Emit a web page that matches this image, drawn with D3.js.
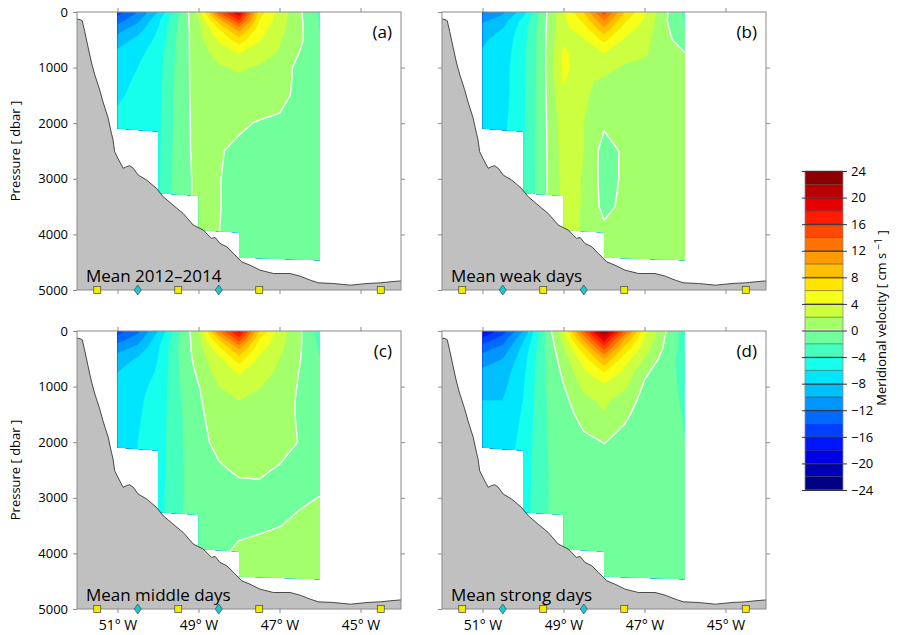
<!DOCTYPE html>
<html>
<head>
<meta charset="utf-8">
<script src="https://cdn.jsdelivr.net/npm/d3@7"></script>
<style>
  body { margin: 0; background: #fff; }
  text { font-family: "Open Sans", "Noto Sans", sans-serif; fill: #000; }
</style>
</head>
<body>
<div id="chart"></div>
<script>
// grid of the section: station longitudes and pressure levels
const lons = [-51, -50.5, -50, -49.5, -49, -48.5, -48, -47.5, -47, -46.5, -46];
const pressures = [0, 150, 300, 500, 750, 1000, 1250, 1500, 2000, 2500, 3000, 3500, 4000, 4500];

// meridional velocity [cm/s], one row per pressure level
const velMean = [
  [-15, -12, -8, -2.5, 2.5, 14, 20, 7, 3.2, 0.3, -2.5],
  [-13, -10.5, -6.5, -2, 1.8, 9, 16, 6, 3, 0.4, -2.3],
  [-11, -9, -6, -1.8, 1.5, 6, 11, 5, 2.6, 0.4, -2.1],
  [-9, -7.5, -5.5, -1.6, 1.3, 4.3, 7, 4.2, 2.2, 0.4, -1.9],
  [-7.5, -6.5, -5, -1.5, 1.2, 2.6, 4.05, 2.8, 1.8, -0.1, -1.8],
  [-7, -6, -4.8, -1.4, 1.1, 1.8, 2.2, 1.8, 1.4, -0.8, -1.7],
  [-7, -5.5, -4.7, -1.3, 1.0, 1.5, 1.7, 1.5, 1.2, -0.8, -1.6],
  [-6.3, -5.5, -4.6, -1.2, 0.9, 1.3, 1.4, 1.2, 0.9, -0.8, -1.5],
  [-5.5, -5.3, -4.5, -1.2, 0.8, 0.9, 0.3, -0.15, -0.5, -1.0, -1.4],
  [-5, -5, -4.4, -1.1, 0.7, 0.15, -0.4, -0.6, -0.8, -1.0, -1.3],
  [-5, -4.8, -4.3, -1.0, 0.5, 0.05, -0.4, -0.6, -0.8, -1.0, -1.2],
  [-5, -4.8, -4.2, -1.0, 0.5, 0.05, -0.4, -0.6, -0.8, -0.9, -1.1],
  [-5, -4.8, -4.2, -1.0, 0.4, 0.02, -0.4, -0.6, -0.7, -0.9, -1.0],
  [-5, -4.8, -4.2, -1.0, 0.4, -0.1, -0.4, -0.5, -0.7, -0.9, -1.0]
];
const velWeak = [
  [-12.5, -10.5, -7, -0.8, 3.8, 8, 15, 8, 4.2, 0.5, -2.5],
  [-10.5, -9, -5.5, -0.7, 3.5, 6.5, 12, 6.5, 3.8, 0.3, -2.2],
  [-9, -8, -5, -0.6, 3.5, 5, 9.5, 5, 3.2, 0.5, -1.8],
  [-8.3, -7.3, -4.8, -0.6, 3.8, 3.8, 6.5, 3.8, 2.6, 0.7, -1.2],
  [-7.8, -7, -4.6, -0.6, 4.3, 3.2, 3.9, 3.0, 2.2, 1.0, 0.1],
  [-7.5, -6.8, -4.5, -0.6, 4.5, 2.8, 2.8, 1.7, 1.5, 1.0, 0.3],
  [-7.3, -6.8, -4.5, -0.6, 4.2, 2.4, 1.6, 1.4, 1.3, 1.1, 0.5],
  [-7.2, -6.8, -4.4, -0.6, 3.6, 2.2, 1.5, 1.3, 1.2, 1.1, 0.6],
  [-7, -6.5, -4.4, -0.6, 3.0, 2.0, 0.3, 1.0, 1.1, 1.1, 0.8],
  [-7, -6.3, -4.3, -0.6, 2.8, 2.0, -0.8, 0.3, 1.0, 1.1, 0.9],
  [-7, -6, -4.2, -0.6, 2.6, 1.9, -0.8, 0.3, 1.0, 1.1, 1.0],
  [-7, -6, -4.2, -0.6, 2.5, 1.9, -0.6, 0.5, 1.0, 1.1, 1.0],
  [-7, -6, -4.2, -0.6, 2.3, 1.9, 0.6, 0.8, 1.0, 1.1, 1.0],
  [-7, -6, -4.2, -0.6, 2.3, 1.9, 0.8, 0.9, 1.0, 1.1, 1.0]
];
const velMiddle = [
  [-15, -12.5, -8, -2.5, 1.8, 12, 19, 8, 3, 0.3, -3],
  [-13, -11, -7, -2.2, 1.4, 8, 15, 6, 2.8, 0.3, -2.6],
  [-11, -9.5, -6.3, -2.0, 1.2, 5.5, 10.5, 4.8, 2.5, 0.2, -2.3],
  [-9, -7.8, -6, -2.1, 1.0, 3.5, 7, 3.7, 2.0, 0.1, -2.0],
  [-8, -7, -5.8, -2.1, 0.4, 2.7, 4.2, 2.8, 1.6, -0.1, -1.8],
  [-7.5, -6.5, -5.5, -2.2, -0.1, 2.0, 2.8, 2.1, 1.2, -0.2, -1.7],
  [-7.2, -6.3, -5.3, -2.3, -0.3, 1.5, 2.0, 1.6, 1.0, -0.3, -1.6],
  [-7, -6.2, -5.2, -2.4, -0.5, 1.2, 1.5, 1.3, 1.0, -0.3, -1.5],
  [-6.8, -6.0, -5.0, -2.4, -0.7, 0.6, 1.0, 0.9, 0.8, -0.1, -1.3],
  [-6.8, -6.0, -5.0, -2.4, -1.0, -0.3, 0.3, 0.3, -0.2, -0.4, -1.0],
  [-6.8, -5.8, -4.8, -2.4, -1.0, -0.8, -0.8, -0.6, -0.5, -0.3, 0.05],
  [-6.8, -5.8, -4.8, -2.2, -1.0, -0.8, -0.7, -0.4, -0.05, 0.4, 0.8],
  [-6.8, -5.8, -4.8, -2.2, -0.9, -0.5, 0.6, 0.9, 1.0, 1.0, 1.0],
  [-6.8, -5.8, -4.8, -2.2, -0.9, -0.3, 0.8, 1.0, 1.0, 1.0, 1.0]
];
const velStrong = [
  [-18, -15, -10, -2.5, 3.6, 14, 23, 14, 4.5, 0.2, -3],
  [-15.5, -13, -8.5, -2.5, 2.6, 10.5, 19, 10, 3.8, -0.05, -3],
  [-13, -11.5, -7.5, -2.4, 1.8, 7.5, 15, 7.5, 3.0, -0.3, -3],
  [-11, -10, -7, -2.3, 1.0, 5, 10, 5, 2.0, -0.9, -3],
  [-9.5, -9, -6.5, -2.3, 0.4, 3.5, 6, 3.5, 0.3, -1.0, -2.8],
  [-8.5, -8.5, -6.2, -2.3, -0.1, 2.4, 3.5, 2.4, -0.3, -1.0, -2.6],
  [-8, -8, -6, -2.3, -0.6, 1.5, 2.4, 1.0, -0.6, -1.0, -2.4],
  [-7.6, -7.5, -5.8, -2.3, -0.9, 0.8, 1.9, 0.3, -0.7, -1.0, -2.2],
  [-7.2, -7, -5.5, -2.3, -1.0, -0.5, 0.05, -0.5, -0.8, -1.0, -2.0],
  [-7, -6.5, -5.3, -2.3, -1.2, -1.0, -0.9, -0.9, -0.9, -1.0, -1.8],
  [-7, -6.5, -5.0, -2.3, -1.2, -1.0, -1.0, -1.0, -1.0, -1.0, -1.5],
  [-7, -6.5, -5.0, -2.3, -1.2, -1.0, -1.0, -1.0, -1.0, -1.0, -1.3],
  [-7, -6.5, -5.0, -2.3, -1.2, -1.0, -1.0, -1.0, -1.0, -1.0, -1.2],
  [-7, -6.5, -5.0, -2.3, -1.2, -1.0, -1.0, -1.0, -1.0, -1.0, -1.2]
];

// lower edge of the measured section
const maskLon = [-51, -46, -46, -48, -48, -49, -49, -50, -50, -51];
const maskP = [0, 0, 4463, 4415, 3964, 3923, 3304, 3262, 2151, 2097];

// bottom topography
const bathyLon = [-52, -51.92, -51.87, -51.81, -51.73, -51.64, -51.56, -51.44, -51.36, -51.23, -51.15, -51.11,
  -51.07, -50.99, -50.86, -50.78, -50.7, -50.61, -50.49, -50.28, -50.04, -49.87, -49.63, -49.38, -49.13,
  -48.88, -48.68, -48.59, -48.47, -48.3, -48.14, -47.93, -47.73, -47.48, -47.15, -46.74, -46.49, -46.24,
  -46.04, -45.67, -45.25, -44.84, -44.51, -44.27, -44];
const bathyP = [126, 139, 157, 349, 620, 919, 1130, 1400, 1611, 1910, 2180, 2300,
  2512, 2631, 2811, 2782, 2764, 2811, 2932, 3022, 3171, 3323, 3472, 3622, 3832,
  3923, 4072, 4054, 4162, 4223, 4342, 4494, 4553, 4643, 4703, 4703, 4751, 4823,
  4871, 4883, 4913, 4883, 4871, 4853, 4836];

// mooring positions along the bottom
const squareLon = [-51.5, -49.5, -47.5, -44.5];
const diamondLon = [-50.5, -48.5];

const xTicks = [-51, -49, -47, -45];
const yTicks = [0, 1000, 2000, 3000, 4000, 5000];
const levels = d3.range(-24, 24, 2);
const cbTicks = d3.range(-24, 25, 4);
const bandColors = ['#000082', '#0000b4', '#0000e6', '#0015ff', '#0040ff', '#006aff', '#0095ff', '#00bfff',
  '#00e6ff', '#16ffec', '#45ffbf', '#71ff9b', '#a3ff6a', '#ccff40', '#f6ff18', '#ffe400', '#ffbf00',
  '#ff9a00', '#ff7200', '#ff4800', '#ff1c00', '#e60000', '#b80000', '#8a0000'];

const panelW = 324, panelH = 278;
const panels = [
  {letter: '(a)', label: 'Mean 2012\u20132014', values: velMean, left: 77, top: 12, yLab: true, xLab: false},
  {letter: '(b)', label: 'Mean weak days', values: velWeak, left: 442, top: 12, yLab: false, xLab: false},
  {letter: '(c)', label: 'Mean middle days', values: velMiddle, left: 77, top: 331, yLab: true, xLab: true},
  {letter: '(d)', label: 'Mean strong days', values: velStrong, left: 442, top: 331, yLab: false, xLab: true}
];

const svg = d3.select('#chart').append('svg')
  .attr('width', 905).attr('height', 635);

const x = d3.scaleLinear().domain([-52, -44]).range([0, panelW]);
const y = d3.scaleLinear().domain([0, 5000]).range([0, panelH]);
const color = d3.scaleThreshold().domain(levels.slice(1)).range(bandColors);

const nx = lons.length, ny = pressures.length;
const lonMin = lons[0], lonMax = lons[nx - 1], pMax = pressures[ny - 1];

// contour grid coordinate -> real coordinate (value i sits at i + 0.5)
function gridTo(arr, g) {
  const i = Math.max(0, Math.min(arr.length - 1, g - 0.5));
  const k = Math.min(Math.floor(i), arr.length - 2);
  return arr[k] + (i - k) * (arr[k + 1] - arr[k]);
}
const proj = d3.geoTransform({
  point: function (gx, gy) { this.stream.point(x(gridTo(lons, gx)), y(gridTo(pressures, gy))); }
});
const gridPath = d3.geoPath(proj);
const contours = d3.contours().size([nx, ny]);

panels.forEach((p, idx) => {
  const g = svg.append('g').attr('transform', `translate(${p.left},${p.top})`);
  const flat = p.values.flat();

  svg.append('clipPath').attr('id', 'mask' + idx)
    .append('path')
    .attr('d', d3.line()(maskLon.map((d, i) => [x(d), y(maskP[i])])) + 'Z');

  const field = g.append('g').attr('clip-path', `url(#mask${idx})`);
  field.selectAll('path.band')
    .data(levels.map(t => contours.contour(flat, t)))
    .join('path')
    .attr('class', 'band')
    .attr('d', gridPath)
    .attr('fill', d => color(d.value))
    .attr('stroke', d => color(d.value))
    .attr('stroke-width', 0.3);

  // zero contour, without the pieces running along the grid edge
  const zero = contours.contour(flat, 0);
  let zd = '';
  zero.coordinates.forEach(poly => poly.forEach(ring => {
    const pts = ring.map(([gx, gy]) => [gridTo(lons, gx), gridTo(pressures, gy)]);
    if (pts.length && (pts[0][0] !== pts[pts.length - 1][0] || pts[0][1] !== pts[pts.length - 1][1])) pts.push(pts[0]);
    let open = false;
    for (let i = 1; i < pts.length; i++) {
      const a = pts[i - 1], b = pts[i];
      const edge = (a[0] === lonMin && b[0] === lonMin) || (a[0] === lonMax && b[0] === lonMax) ||
        (a[1] === 0 && b[1] === 0) || (a[1] === pMax && b[1] === pMax);
      if (edge) { open = false; continue; }
      if (!open) { zd += `M${x(a[0])},${y(a[1])}`; open = true; }
      zd += `L${x(b[0])},${y(b[1])}`;
    }
  }));
  field.append('path').attr('d', zd)
    .attr('fill', 'none').attr('stroke', '#fff').attr('stroke-width', 1.4)
    .attr('stroke-linejoin', 'round');

  // topography
  const bathy = bathyLon.map((d, i) => [x(d), y(bathyP[i])]);
  g.append('path')
    .attr('d', d3.line()([[x(-52), y(5000)], ...bathy, [x(-44), y(5000)]]) + 'Z')
    .attr('fill', '#c0c0c0');
  g.append('path')
    .attr('d', d3.line()(bathy))
    .attr('fill', 'none').attr('stroke', '#222').attr('stroke-width', 0.8);

  // axes
  const axisStyle = a => a.call(s => s.select('.domain').remove())
    .call(s => s.selectAll('.tick line').attr('stroke', '#8a8a8a'));
  g.append('g').attr('transform', `translate(0,${panelH})`)
    .call(d3.axisBottom(x).tickValues(xTicks).tickSize(4).tickPadding(7)
      .tickFormat(d => p.xLab ? `${-d}\u00b0 W` : ''))
    .call(axisStyle)
    .call(s => s.selectAll('text').attr('font-size', 14).attr('font-family', null));
  g.append('g')
    .call(d3.axisTop(x).tickValues(xTicks).tickSize(4).tickFormat(''))
    .call(axisStyle);
  g.append('g')
    .call(d3.axisLeft(y).tickValues(yTicks).tickSize(4).tickPadding(5)
      .tickFormat(d => p.yLab ? d3.format('d')(d) : ''))
    .call(axisStyle)
    .call(s => s.selectAll('text').attr('font-size', 13).attr('font-family', null));
  g.append('g').attr('transform', `translate(${panelW},0)`)
    .call(d3.axisRight(y).tickValues(yTicks.slice(1, -1)).tickSize(4).tickFormat(''))
    .call(axisStyle);

  g.append('rect')
    .attr('width', panelW).attr('height', panelH)
    .attr('fill', 'none').attr('stroke', '#8a8a8a').attr('stroke-width', 1);

  // mooring markers
  g.selectAll('rect.sq').data(squareLon).join('rect')
    .attr('class', 'sq')
    .attr('x', d => x(d) - 3.5).attr('y', panelH - 3.5)
    .attr('width', 7).attr('height', 7)
    .attr('fill', '#f2ea00').attr('stroke', '#444').attr('stroke-width', 0.7);
  g.selectAll('path.dia').data(diamondLon).join('path')
    .attr('class', 'dia')
    .attr('transform', d => `translate(${x(d)},${panelH})`)
    .attr('d', 'M0,-5L3.5,0L0,5L-3.5,0Z')
    .attr('fill', '#19c8d2').attr('stroke', '#444').attr('stroke-width', 0.7);

  g.append('text')
    .attr('x', panelW - 9).attr('y', 26)
    .attr('text-anchor', 'end').attr('font-size', 17)
    .text(p.letter);
  g.append('text')
    .attr('x', 9).attr('y', panelH - 8)
    .attr('font-size', 17)
    .text(p.label);

  if (p.yLab) {
    g.append('text')
      .attr('transform', `translate(-57,${panelH / 2}) rotate(-90)`)
      .attr('text-anchor', 'middle').attr('font-size', 13)
      .text('Pressure [ dbar ]');
  }
});

// colour bar
const cbX = 805, cbW = 38;
const cbY = d3.scaleLinear().domain([-24, 24]).range([490, 171]);
const cb = svg.append('g');
cb.selectAll('rect.band').data(levels).join('rect')
  .attr('class', 'band')
  .attr('x', cbX).attr('width', cbW)
  .attr('y', d => cbY(d + 2)).attr('height', d => cbY(d) - cbY(d + 2))
  .attr('fill', d => color(d));
cb.selectAll('line.sep').data(levels.slice(1)).join('line')
  .attr('class', 'sep')
  .attr('x1', cbX).attr('x2', cbX + cbW)
  .attr('y1', d => cbY(d)).attr('y2', d => cbY(d))
  .attr('stroke', d => d === 0 ? '#fff' : '#333')
  .attr('stroke-width', d => d === 0 ? 1.5 : 0.5);
cb.append('rect')
  .attr('x', cbX).attr('y', cbY(24)).attr('width', cbW).attr('height', cbY(-24) - cbY(24))
  .attr('fill', 'none').attr('stroke', '#8a8a8a').attr('stroke-width', 0.8);
cb.append('g').attr('transform', `translate(${cbX + cbW},0)`)
  .call(d3.axisRight(cbY).tickValues(cbTicks).tickSize(4).tickPadding(4)
    .tickFormat(d => d < 0 ? '\u2212' + (-d) : d))
  .call(s => s.select('.domain').remove())
  .call(s => s.selectAll('.tick line').attr('stroke', '#333').attr('x1', -cbW - 3))
  .call(s => s.selectAll('text').attr('font-size', 13).attr('font-family', null));

const title = svg.append('text')
  .attr('transform', `translate(886,318) rotate(-90)`)
  .attr('text-anchor', 'middle').attr('font-size', 13);
title.append('tspan').text('Meridional velocity [ cm s ');
title.append('tspan').attr('dy', '-0.45em').attr('font-size', 10).text('\u22121');
title.append('tspan').attr('dy', '0.45em').text(' ]');
</script>
</body>
</html>
